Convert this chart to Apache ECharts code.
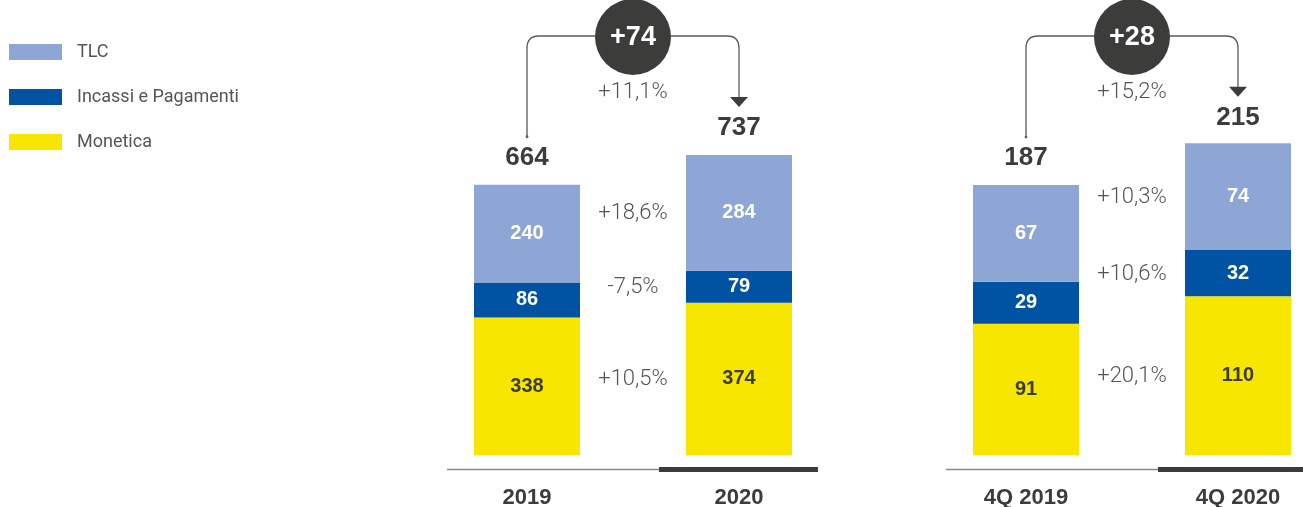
<!DOCTYPE html>
<html>
<head>
<meta charset="utf-8">
<script src="https://cdn.jsdelivr.net/npm/echarts@6/dist/echarts.min.js"></script>
<style>
  html, body { margin: 0; padding: 0; background: #ffffff; }
  #chart { width: 1303px; height: 507px; }
</style>
</head>
<body>
<div id="chart"></div>
<script>
// Business lines (legend order)
const seriesNames = ['TLC', 'Incassi e Pagamenti', 'Monetica'];

// Full-year panel
const yearCategories = ['2019', '2020'];
const yearTLC = [240, 284];
const yearIncassi = [86, 79];
const yearMonetica = [338, 374];
const yearTotals = [664, 737];
const yearDelta = '+74';
const yearDeltaPct = '+11,1%';
const yearGrowth = ['+18,6%', '-7,5%', '+10,5%'];   // TLC, Incassi e Pagamenti, Monetica

// Fourth-quarter panel
const quarterCategories = ['4Q 2019', '4Q 2020'];
const quarterTLC = [67, 74];
const quarterIncassi = [29, 32];
const quarterMonetica = [91, 110];
const quarterTotals = [187, 215];
const quarterDelta = '+28';
const quarterDeltaPct = '+15,2%';
const quarterGrowth = ['+10,3%', '+10,6%', '+20,1%'];

const COLORS = { 'TLC': '#8ea6d6', 'Incassi e Pagamenti': '#0052a3', 'Monetica': '#f7e600' };
const DARK = '#3c3c3c';
const GREY_TEXT = '#555555';
const BOLD_FONT = '"Liberation Sans", Arial, sans-serif';
const LIGHT_FONT = 'Roboto, "Liberation Sans", sans-serif';

function stackSeries(gridIdx, tlc, incassi, monetica) {
  const make = (name, data, labelColor) => ({
    type: 'bar', name, data, stack: 'g' + gridIdx,
    xAxisIndex: gridIdx, yAxisIndex: gridIdx,
    barWidth: 106, clip: false,
    itemStyle: { color: COLORS[name] },
    label: {
      show: true, position: 'inside', color: labelColor,
      fontFamily: BOLD_FONT, fontWeight: 'bold', fontSize: 20
    },
    emphasis: { disabled: true }
  });
  // bottom to top: Monetica, Incassi e Pagamenti, TLC
  return [
    make('Monetica', monetica, DARK),
    make('Incassi e Pagamenti', incassi, '#ffffff'),
    make('TLC', tlc, '#ffffff')
  ];
}

// growth labels sit between the two bars, level with each segment of the later bar
function growthSeries(gridIdx, tlc, incassi, monetica, growth) {
  const m = monetica[1], inc = incassi[1], t = tlc[1];
  const mids = [m + inc + t / 2, m + inc / 2, m / 2];   // TLC, Incassi, Monetica
  return {
    type: 'custom', xAxisIndex: gridIdx, yAxisIndex: gridIdx, silent: true, z: 5,
    data: mids.map((v, i) => [1, v, i]),
    encode: { x: 0, y: 1 },
    renderItem(params, api) {
      const p0 = api.coord([0, api.value(1)]);
      const p1 = api.coord([1, api.value(1)]);
      return {
        type: 'text', x: (p0[0] + p1[0]) / 2, y: p1[1] + 1,
        style: {
          text: growth[api.value(2)], fill: GREY_TEXT,
          fontFamily: LIGHT_FONT, fontWeight: 300, fontSize: 22,
          align: 'center', verticalAlign: 'middle'
        }
      };
    }
  };
}

// totals, connector with delta bubble, and the base rule under the bars
function bridgeSeries(gridIdx, totals, delta, deltaPct) {
  return {
    type: 'custom', xAxisIndex: gridIdx, yAxisIndex: gridIdx, silent: true, z: 6,
    data: [[0, totals[0], totals[1]]],
    encode: { x: 0, y: 1 },
    renderItem(params, api) {
      const a = api.coord([0, api.value(1)]);
      const b = api.coord([1, api.value(2)]);
      const base0 = api.coord([0, 0]);
      const base1 = api.coord([1, 0]);
      const gridTop = params.coordSys.y;
      const lineY = gridTop - 12;
      const cx = (a[0] + b[0]) / 2;
      const cy = lineY + 1;
      const R = 38, rc = 12, gap = 48, tri = 9;
      const lineStyle = { stroke: '#5a5a5a', lineWidth: 1.3, fill: null };
      const ruleY = base0[1] + 14.5;
      return {
        type: 'group',
        children: [
          { type: 'line', shape: { x1: base0[0] - 80, y1: ruleY, x2: base1[0] - 80, y2: ruleY },
            style: { stroke: '#8a8a8a', lineWidth: 1.5 } },
          { type: 'rect', shape: { x: base1[0] - 80, y: ruleY - 2.5, width: 159, height: 5 },
            style: { fill: DARK } },
          { type: 'path',
            shape: { pathData: `M${a[0]},${a[1] - gap} L${a[0]},${lineY + rc} Q${a[0]},${lineY} ${a[0] + rc},${lineY} L${cx - R},${lineY}` },
            style: lineStyle },
          { type: 'circle', shape: { cx: a[0], cy: a[1] - gap, r: 1.4 }, style: { fill: '#5a5a5a' } },
          { type: 'path',
            shape: { pathData: `M${cx + R},${lineY} L${b[0] - rc},${lineY} Q${b[0]},${lineY} ${b[0]},${lineY + rc} L${b[0]},${b[1] - gap - tri}` },
            style: lineStyle },
          { type: 'polygon',
            shape: { points: [[b[0] - 9, b[1] - gap - tri - 1], [b[0] + 9, b[1] - gap - tri - 1], [b[0], b[1] - gap]] },
            style: { fill: DARK } },
          { type: 'circle', shape: { cx, cy, r: R }, style: { fill: '#3c3c3b' } },
          { type: 'text', x: cx, y: cy + 1,
            style: { text: delta, fill: '#ffffff', fontFamily: BOLD_FONT, fontWeight: 'bold', fontSize: 27,
                     align: 'center', verticalAlign: 'middle' } },
          { type: 'text', x: cx, y: cy + 55,
            style: { text: deltaPct, fill: GREY_TEXT, fontFamily: LIGHT_FONT, fontWeight: 300, fontSize: 22,
                     align: 'center', verticalAlign: 'middle' } },
          { type: 'text', x: a[0], y: a[1] - 27,
            style: { text: String(totals[0]), fill: DARK, fontFamily: BOLD_FONT, fontWeight: 'bold', fontSize: 26,
                     align: 'center', verticalAlign: 'middle' } },
          { type: 'text', x: b[0], y: b[1] - 27,
            style: { text: String(totals[1]), fill: DARK, fontFamily: BOLD_FONT, fontWeight: 'bold', fontSize: 26,
                     align: 'center', verticalAlign: 'middle' } }
        ]
      };
    }
  };
}

// categories sit on the grid edges, so each grid spans exactly bar centre to bar centre
function catAxis(gridIdx, cats) {
  return {
    type: 'category', gridIndex: gridIdx, data: cats, boundaryGap: false,
    axisLine: { show: false }, axisTick: { show: false }, splitLine: { show: false },
    axisLabel: { color: DARK, fontFamily: BOLD_FONT, fontWeight: 'bold', fontSize: 22, margin: 32 }
  };
}

function valAxis(gridIdx, max) {
  return { type: 'value', gridIndex: gridIdx, min: 0, max, show: false, splitLine: { show: false } };
}

const chart = echarts.init(document.getElementById('chart'), null, { renderer: 'canvas' });
chart.setOption({
  animation: false,
  backgroundColor: '#ffffff',
  legend: {
    data: seriesNames,
    orient: 'vertical', left: 9, top: 43, padding: 0,
    itemWidth: 53, itemHeight: 16, itemGap: 27,
    icon: 'rect',
    selectedMode: false,
    textStyle: { color: GREY_TEXT, fontFamily: LIGHT_FONT, fontSize: 18, padding: [0, 0, 0, 10] }
  },
  grid: [
    { left: 527, width: 212, top: 48, bottom: 52, outerBoundsMode: 'none', containLabel: false },
    { left: 1026, width: 212, top: 48, bottom: 52, outerBoundsMode: 'none', containLabel: false }
  ],
  xAxis: [catAxis(0, yearCategories), catAxis(1, quarterCategories)],
  yAxis: [valAxis(0, 1000), valAxis(1, 282)],
  series: [
    ...stackSeries(0, yearTLC, yearIncassi, yearMonetica),
    ...stackSeries(1, quarterTLC, quarterIncassi, quarterMonetica),
    growthSeries(0, yearTLC, yearIncassi, yearMonetica, yearGrowth),
    growthSeries(1, quarterTLC, quarterIncassi, quarterMonetica, quarterGrowth),
    bridgeSeries(0, yearTotals, yearDelta, yearDeltaPct),
    bridgeSeries(1, quarterTotals, quarterDelta, quarterDeltaPct)
  ]
});
</script>
</body>
</html>
